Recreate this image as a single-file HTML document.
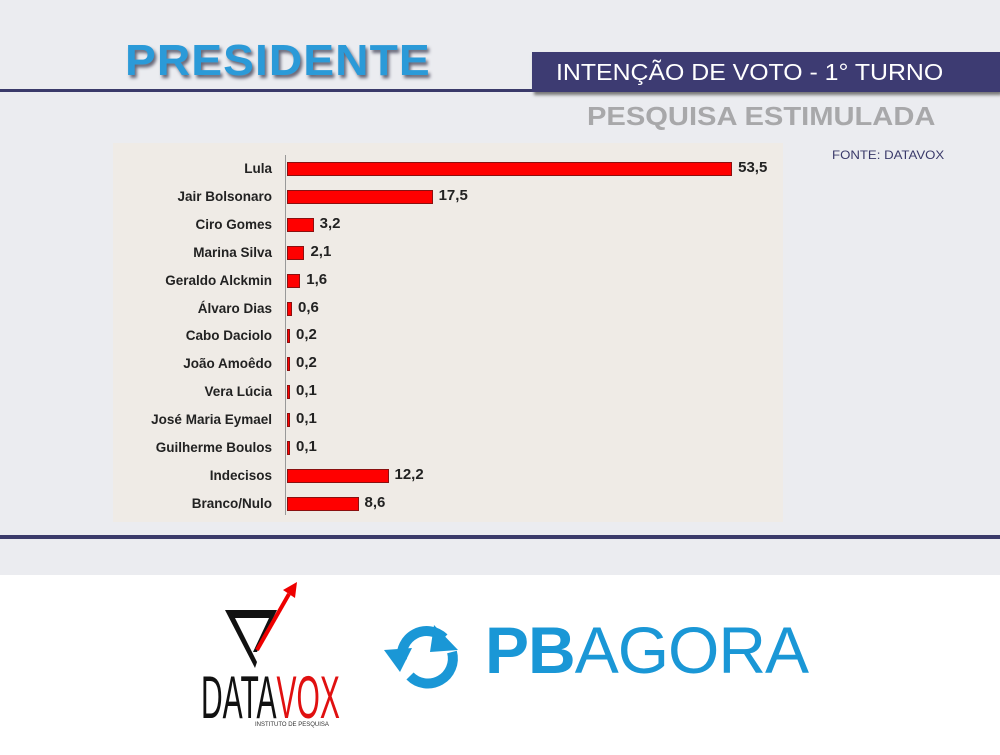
<!DOCTYPE html>
<html><head><meta charset="utf-8"><style>
body{margin:0;width:1000px;height:755px;background:#ebecf0;position:relative;overflow:hidden;font-family:"Liberation Sans",Arial,sans-serif}
.a{position:absolute}
.lbl{position:absolute;right:728px;font-weight:bold;font-size:13.5px;color:#222;text-align:right;white-space:nowrap}
.bar{position:absolute;left:287px;height:14px;background:#f00;border:1px solid #8a1010;box-sizing:border-box}
.val{position:absolute;font-weight:bold;font-size:15px;color:#222}
</style></head><body>
<div class="a" style="left:125px;top:36px;font-size:44px;font-weight:900;color:#2b9ad8;letter-spacing:1px;text-shadow:2px 3px 3px #667;transform:scaleX(1.05);transform-origin:left">PRESIDENTE</div>
<div class="a" style="left:0;top:89px;width:540px;height:3px;background:#3a3a6a"></div>
<div class="a" style="left:532px;top:52px;width:468px;height:40px;background:#3d3b72;box-shadow:2px 3px 3px #777"></div>
<div class="a" style="left:556px;top:59px;font-size:23px;color:#fff;white-space:nowrap;transform:scaleX(1.08);transform-origin:left">INTENÇÃO DE VOTO - 1° TURNO</div>
<div class="a" style="left:587px;top:101px;font-size:26px;color:#a8a8aa;font-weight:bold;white-space:nowrap;transform:scaleX(1.12);transform-origin:left">PESQUISA ESTIMULADA</div>
<div class="a" style="left:832px;top:148px;font-size:12px;color:#3a3a6a;transform:scaleX(1.1);transform-origin:left;white-space:nowrap">FONTE: DATAVOX</div>
<div class="a" style="left:113px;top:143px;width:670px;height:379px;background:#efebe6"></div>
<div class="a" style="left:285px;top:155px;width:1px;height:360px;background:#999"></div>
<div id="rows"></div>
<div class="a" style="left:0;top:535px;width:1000px;height:4px;background:#3a3a6a"></div>
<div class="a" style="left:0;top:575px;width:1000px;height:180px;background:#fff"></div>
<svg class="a" style="left:195px;top:580px" width="150" height="150">
<polygon points="30,30 82,30 62,72 58,72 74,38 40,38 62,82 60,88" fill="#111"/>
<line x1="62" y1="70" x2="94" y2="14" stroke="#e00" stroke-width="4"/>
<polygon points="88,10 102,2 100,18" fill="#e00"/>
<text x="0" y="138" font-family="Liberation Sans, sans-serif" font-size="60" fill="#111" transform="translate(6,0) scale(0.5,1)">DATA<tspan fill="#e01010">VOX</tspan></text>
<text x="60" y="146" font-size="6" fill="#333">INSTITUTO DE PESQUISA</text>
</svg>
<svg class="a" style="left:382px;top:620px" width="90" height="70">
<path d="M20,40 A25,25 0 0 1 62,18" fill="none" stroke="#1a97d6" stroke-width="10"/>
<polygon points="52,5 76,30 48,32" fill="#1a97d6"/>
<path d="M70,32 A25,25 0 0 1 28,56" fill="none" stroke="#1a97d6" stroke-width="10"/>
<polygon points="2,30 30,28 18,52" fill="#1a97d6"/>
</svg>
<div class="a" style="left:485px;top:612px;font-size:66px;color:#1a97d6;letter-spacing:-1px"><b>PB</b>AGORA</div>
<script>
var d=[["Lula",53.5],["Jair Bolsonaro",17.5],["Ciro Gomes",3.2],["Marina Silva",2.1],["Geraldo Alckmin",1.6],["Álvaro Dias",0.6],["Cabo Daciolo",0.2],["João Amoêdo",0.2],["Vera Lúcia",0.1],["José Maria Eymael",0.1],["Guilherme Boulos",0.1],["Indecisos",12.2],["Branco/Nulo",8.6]];
var h="";d.forEach(function(r,i){var y=162+i*27.9;var w=Math.max(3,r[1]*8.32);
h+='<div class="lbl" style="top:'+(y-1)+'px">'+r[0]+'</div><div class="bar" style="top:'+y+'px;width:'+w+'px"></div><div class="val" style="top:'+(y-3)+'px;left:'+(287+w+6)+'px">'+r[1].toString().replace(".",",")+'</div>';});
document.getElementById("rows").innerHTML=h;
</script>
</body></html>
